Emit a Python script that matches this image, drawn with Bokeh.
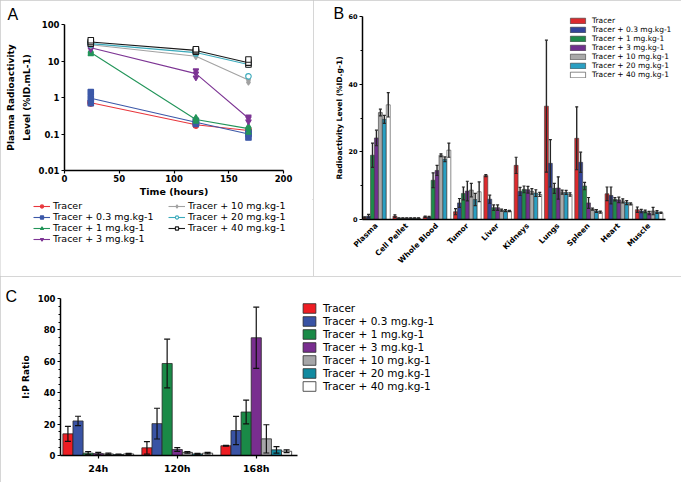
import numpy as np
from bokeh.plotting import figure
from bokeh.models import (ColumnDataSource, Legend, LegendItem, Whisker, TeeHead,
                          FixedTicker, Range1d)
from bokeh.layouts import column, row
from bokeh.embed import file_html
from bokeh.resources import INLINE

# ---------------- data ----------------
series = ["Tracer", "Tracer + 0.3 mg.kg-1", "Tracer + 1 mg.kg-1", "Tracer + 3 mg.kg-1",
          "Tracer + 10 mg.kg-1", "Tracer + 20 mg.kg-1", "Tracer + 40 mg.kg-1"]

# Panel A: plasma radioactivity (%ID/mL), log scale
a_hours = [24, 120, 168]
a_mean = [
    [0.72, 0.18, 0.125],
    [0.95, 0.21, 0.10],
    [17.0, 0.25, 0.14],
    [23.0, 4.5, 0.27],
    [28.0, 13.5, 3.0],
    [30.0, 17.0, 8.0],
    [33.0, 19.5, 9.0],
]
a_low = [
    [0.68, 0.17, 0.115],
    [0.70, 0.19, 0.08],
    [15.5, 0.22, 0.11],
    [21.0, 3.5, 0.22],
    [26.0, 13.0, 2.6],
    [28.0, 16.0, 3.8],
    [30.0, 18.0, 8.0],
]
a_high = [
    [0.76, 0.19, 0.135],
    [1.40, 0.23, 0.11],
    [19.0, 0.28, 0.16],
    [25.0, 5.5, 0.30],
    [30.0, 14.0, 3.2],
    [32.0, 18.0, 8.4],
    [37.0, 21.0, 11.0],
]

# Panel B: biodistribution (%ID/g)
organs = ["Plasma", "Cell Pellet", "Whole Blood", "Tumor", "Liver",
          "Kidneys", "Lungs", "Spleen", "Heart", "Muscle"]
b_mean = [
    [0.6, 1.0, 0.8, 2.3, 13.0, 16.0, 33.5, 24.0, 7.6, 2.9],
    [1.0, 0.4, 0.7, 4.9, 6.0, 8.3, 16.6, 16.9, 7.1, 2.5],
    [19.0, 0.4, 11.6, 7.7, 3.5, 8.9, 9.2, 9.9, 6.0, 2.4],
    [24.1, 0.4, 14.5, 8.4, 3.5, 8.8, 9.3, 4.9, 5.8, 1.9],
    [31.6, 0.4, 19.0, 8.7, 2.75, 8.3, 8.1, 3.1, 5.5, 2.5],
    [29.6, 0.4, 17.8, 5.9, 2.6, 7.8, 8.0, 2.5, 5.0, 2.2],
    [33.9, 0.4, 20.5, 8.2, 2.5, 7.4, 7.4, 2.2, 4.6, 2.0],
]
b_sd = [
    [0.2, 0.4, 0.2, 0.9, 0.3, 2.4, 19.5, 9.3, 2.0, 0.8],
    [0.5, 0.1, 0.2, 1.3, 1.2, 1.2, 7.0, 3.0, 2.5, 0.5],
    [3.6, 0.1, 2.2, 1.9, 0.8, 1.0, 1.5, 1.1, 0.5, 0.4],
    [2.3, 0.1, 1.5, 2.9, 0.8, 1.0, 3.3, 1.6, 0.8, 0.5],
    [1.0, 0.1, 0.4, 2.0, 0.3, 0.8, 0.6, 0.3, 0.6, 1.1],
    [1.2, 0.1, 0.7, 1.8, 0.3, 1.0, 0.6, 0.4, 0.6, 0.4],
    [3.6, 0.1, 2.1, 2.9, 0.2, 0.6, 0.5, 0.3, 0.3, 0.2],
]

# Panel C: I:P ratio
c_times = ["24h", "120h", "168h"]
c_mean = [
    [13.8, 4.9, 6.2],
    [22.0, 20.3, 15.9],
    [1.5, 58.6, 27.7],
    [1.2, 3.8, 75.0],
    [1.0, 2.0, 10.6],
    [0.6, 1.0, 3.6],
    [1.0, 1.5, 2.7],
]
c_sd = [
    [4.8, 4.0, 0.3],
    [3.0, 9.8, 9.0],
    [1.0, 15.5, 7.6],
    [0.8, 1.2, 19.5],
    [0.5, 0.5, 9.0],
    [0.3, 0.3, 2.1],
    [0.3, 0.5, 0.9],
]

# ---------------- styles ----------------
a_colors = ["#e8363c", "#3c58a8", "#23955a", "#7d3594", "#a2a2a2", "#3aaabb", "#1a1a1a"]
a_markers = ["circle", "square", "triangle", "inverted_triangle", "diamond", "circle", "square"]
a_fill = ["#e8363c", "#3c58a8", "#23955a", "#7d3594", "#a2a2a2", "white", "white"]
b_colors = ["#dc2a2e", "#33449a", "#1f8a4a", "#70308e", "#a9a9a9", "#2a9fc2", "#ffffff"]
c_colors = ["#ee1d23", "#3953a4", "#1a8a47", "#792e8f", "#a6a6a8", "#128aa0", "#ffffff"]
FONT = "DejaVu Sans"
BORDER = {"outline": "1px solid #c8c8c8", "outline-offset": "-1px"}


def no_frame_align(p):
    try:
        p.frame_align = False
    except Exception:
        pass


def style_axis(ax, label_size, title_size, standoff, title_standoff):
    ax.axis_line_width = 1.5
    ax.axis_line_color = "#000000"
    ax.major_tick_line_width = 1.2
    ax.major_tick_line_color = "#000000"
    ax.major_tick_out = 3
    ax.major_tick_in = 0
    ax.minor_tick_line_color = None
    ax.major_label_text_font = FONT
    ax.major_label_text_font_style = "bold"
    ax.major_label_text_font_size = label_size
    ax.major_label_text_color = "#000000"
    ax.major_label_standoff = standoff
    ax.axis_label_text_font = FONT
    ax.axis_label_text_font_style = "bold"
    ax.axis_label_text_font_size = title_size
    ax.axis_label_text_color = "#000000"
    ax.axis_label_standoff = title_standoff


def panel_letter(p, text, offset, standoff):
    t = p.title
    t.text = text
    t.align = "left"
    t.offset = offset
    t.standoff = standoff
    t.vertical_align = "top"
    t.text_font = "Liberation Sans"
    t.text_font_size = "16px"
    t.text_font_style = "normal"
    t.text_color = "#000000"


def a_series_renderers(p, k):
    ln = p.line(a_hours, a_mean[k], line_color=a_colors[k], line_width=1.1)
    first = None
    for vals in (a_low[k], a_mean[k], a_high[k]):
        r = p.scatter(a_hours, vals, marker=a_markers[k], size=5.5,
                      line_color=a_colors[k], fill_color=a_fill[k], line_width=1.1)
        if first is None:
            first = r
    return ln, first


# ---------------- Panel A (plot) ----------------
pA = figure(width=313, height=199, x_range=Range1d(0, 200), y_range=Range1d(0.01, 100),
            y_axis_type="log", output_backend="svg", toolbar_location=None,
            min_border_left=64, min_border_right=30, min_border_top=24, min_border_bottom=28)
no_frame_align(pA)
pA.grid.visible = False
pA.outline_line_color = None
style_axis(pA.xaxis[0], "8.5px", "9.5px", 1, 1)
style_axis(pA.yaxis[0], "8.5px", "9px", 2, 4)
pA.xaxis.ticker = FixedTicker(ticks=[0, 50, 100, 150, 200])
pA.yaxis.ticker = FixedTicker(ticks=[0.01, 0.1, 1, 10, 100])
pA.yaxis.major_label_overrides = {0.01: "0.01", 0.1: "0.1", 1: "1", 10: "10", 100: "100"}
pA.xaxis.axis_label = "Time (hours)"
pA.yaxis.axis_label = "Plasma Radioactivity\nLevel (%ID.mL-1)"
pA.yaxis.axis_label_text_line_height = 1.6
for k in range(7):
    a_series_renderers(pA, k)
panel_letter(pA, "A", -57, -2.3)

# ---------------- Panel A (legend strip) ----------------
pAL = figure(width=313, height=77, x_range=Range1d(1000, 1100), y_range=Range1d(0.01, 100),
             y_axis_type="log", output_backend="svg", toolbar_location=None,
             x_axis_location=None, y_axis_location=None,
             min_border_left=0, min_border_right=0, min_border_top=0, min_border_bottom=0)
no_frame_align(pAL)
pAL.grid.visible = False
pAL.outline_line_color = None
itemsA = []
for k in range(7):
    ln, sc = a_series_renderers(pAL, k)
    itemsA.append(LegendItem(label=series[k], renderers=[ln, sc]))
legA = Legend(items=itemsA, location=(33, 32), orientation="vertical", nrows=4,
              label_text_font=FONT, label_text_font_size="9.5px", label_text_color="#000000",
              glyph_width=17, glyph_height=8, label_height=8, label_standoff=3, spacing=0,
              padding=0, margin=0, border_line_color=None, background_fill_alpha=0,
              label_width=115)
pAL.add_layout(legA)
colA = column(pA, pAL, styles=BORDER)

# ---------------- Panel B ----------------
b_px_per_unit = 30.3
b_frame_w = 368 - 49 - 2
pB = figure(width=368, height=276, x_range=Range1d(0, b_frame_w / b_px_per_unit),
            y_range=Range1d(0, 60),
            output_backend="svg", toolbar_location=None,
            min_border_left=49, min_border_right=2, min_border_top=16, min_border_bottom=57)
no_frame_align(pB)
pB.grid.visible = False
pB.outline_line_color = None
pB.styles = BORDER
style_axis(pB.xaxis[0], "7.5px", "7.5px", 5, 2)
style_axis(pB.yaxis[0], "6.5px", "7.5px", 2, 1)
pB.xaxis.major_tick_out = 0
pB.xaxis.bounds = (0, 10)
pB.yaxis.ticker = FixedTicker(ticks=[0, 20, 40, 60], minor_ticks=[10, 30, 50])
pB.yaxis.minor_tick_line_color = "#000000"
pB.yaxis.minor_tick_out = 2
pB.yaxis.minor_tick_in = 0
pB.yaxis.axis_label = "Radioactivity Level (%ID.g-1)"

bw = 0.13
b0 = 0.005
b_centers = [i + b0 + 3.5 * bw for i in range(len(organs))]
pB.xaxis.ticker = FixedTicker(ticks=b_centers)
pB.xaxis.major_label_overrides = {c: o for c, o in zip(b_centers, organs)}
pB.xaxis.major_label_orientation = np.pi / 4

itemsB = []
for k in range(7):
    xs = [i + b0 + (k + 0.5) * bw for i in range(len(organs))]
    src = ColumnDataSource(dict(x=xs, top=b_mean[k],
                                lower=[m - s for m, s in zip(b_mean[k], b_sd[k])],
                                upper=[m + s for m, s in zip(b_mean[k], b_sd[k])]))
    r = pB.vbar(x="x", top="top", width=bw, bottom=0, source=src, fill_color=b_colors[k],
                line_color="#3a3a3a", line_width=0.6)
    pB.add_layout(Whisker(source=src, base="x", lower="lower", upper="upper",
                          line_color="#262626", line_width=1.4, level="annotation",
                          upper_head=TeeHead(size=3, line_color="#262626", line_width=1.2),
                          lower_head=TeeHead(size=3, line_color="#262626", line_width=1.2)))
    itemsB.append(LegendItem(label=series[k], renderers=[r]))

legB = Legend(items=itemsB, location=(206, 140), orientation="vertical",
              label_text_font=FONT, label_text_font_size="7.5px", label_text_color="#000000",
              glyph_width=19, glyph_height=7, label_height=7, label_standoff=5, spacing=0,
              padding=0, margin=0, border_line_color=None, background_fill_alpha=0)
pB.add_layout(legB)
panel_letter(pB, "B", -29, -16.3)

# ---------------- Panel C ----------------
c_px_per_unit = 79.0
c_frame_w = 681 - 60 - 10
pC = figure(width=681, height=206, x_range=Range1d(0, c_frame_w / c_px_per_unit),
            y_range=Range1d(0, 100),
            output_backend="svg", toolbar_location=None,
            min_border_left=60, min_border_right=10, min_border_top=22, min_border_bottom=27)
no_frame_align(pC)
pC.grid.visible = False
pC.outline_line_color = None
pC.styles = BORDER
style_axis(pC.xaxis[0], "9.5px", "9px", 4, 3)
style_axis(pC.yaxis[0], "8.5px", "9px", 2, 4)
pC.xaxis.bounds = (0, 3)
pC.yaxis.ticker = FixedTicker(ticks=[0, 20, 40, 60, 80, 100],
                              minor_ticks=[v for v in range(5, 100, 5) if v % 20 != 0])
pC.yaxis.minor_tick_line_color = "#000000"
pC.yaxis.minor_tick_out = 2
pC.yaxis.minor_tick_in = 0
pC.yaxis.axis_label = "I:P Ratio"

cw = 0.128
c0 = 0.03
c_centers = [i + c0 + 3.5 * cw for i in range(len(c_times))]
pC.xaxis.ticker = FixedTicker(ticks=c_centers)
pC.xaxis.major_label_overrides = {c: t for c, t in zip(c_centers, c_times)}

itemsC = []
for k in range(7):
    xs = [i + c0 + (k + 0.5) * cw for i in range(len(c_times))]
    src = ColumnDataSource(dict(x=xs, top=c_mean[k],
                                lower=[max(m - s, 0) for m, s in zip(c_mean[k], c_sd[k])],
                                upper=[m + s for m, s in zip(c_mean[k], c_sd[k])]))
    r = pC.vbar(x="x", top="top", width=cw, bottom=0, source=src, fill_color=c_colors[k],
                line_color="#2a2a2a", line_width=0.8)
    pC.add_layout(Whisker(source=src, base="x", lower="lower", upper="upper",
                          line_color="#111111", line_width=1.2, level="annotation",
                          upper_head=TeeHead(size=6, line_color="#111111", line_width=1.2),
                          lower_head=TeeHead(size=6, line_color="#111111", line_width=1.2)))
    itemsC.append(LegendItem(label=series[k], renderers=[r]))

legC = Legend(items=itemsC, location=(241, 63), orientation="vertical",
              label_text_font=FONT, label_text_font_size="10.5px", label_text_color="#000000",
              glyph_width=16, glyph_height=12, label_height=12, label_standoff=6, spacing=1,
              padding=0, margin=0, border_line_color=None, background_fill_alpha=0)
pC.add_layout(legC)
panel_letter(pC, "C", -55, -17.3)

layout = column(row(colA, pB), pC)
open("out.html", "w").write(file_html(layout, INLINE))
